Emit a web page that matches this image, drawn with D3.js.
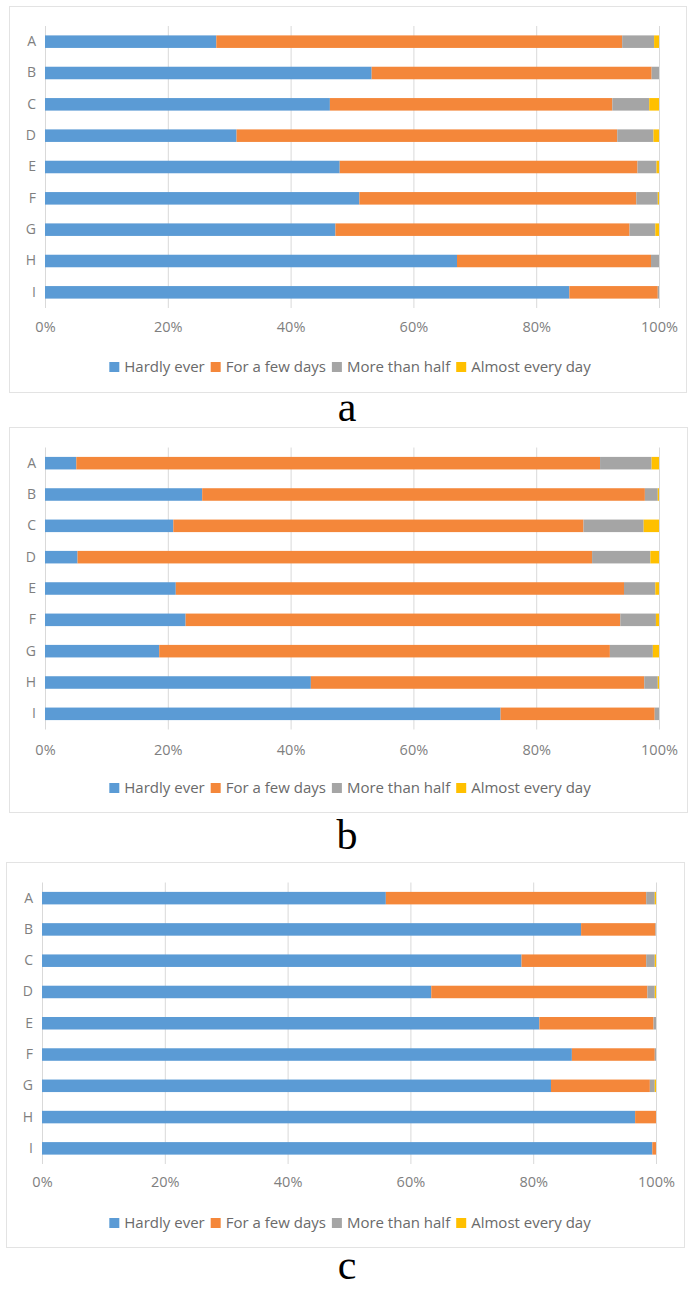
<!DOCTYPE html>
<html>
<head>
<meta charset="utf-8">
<script src="https://cdn.jsdelivr.net/npm/d3@7"></script>
<style>
  html, body { margin: 0; padding: 0; background: #fff; }
  svg { display: block; }
</style>
</head>
<body>
<svg id="chart" width="693" height="1291"></svg>
<script>
// ---------- DATA ----------
const categories = ["A", "B", "C", "D", "E", "F", "G", "H", "I"];
const seriesNames = ["Hardly ever", "For a few days", "More than half", "Almost every day"];
const xTicks = [0, 20, 40, 60, 80, 100];
const panelLabels = ["a", "b", "c"];

// Panel a (percent)
const aHardly = [27.9, 53.2, 46.4, 31.2, 48.0, 51.2, 47.3, 67.1, 85.4];
const aFew    = [66.1, 45.6, 46.0, 62.0, 48.5, 45.1, 47.9, 31.6, 14.4];
const aHalf   = [ 5.2,  1.2,  6.0,  5.9,  3.1,  3.5,  4.2,  1.3,  0.2];
const aAlmost = [ 0.8,  0.0,  1.6,  0.9,  0.4,  0.2,  0.6,  0.0,  0.0];

// Panel b (percent)
const bHardly = [ 5.1, 25.6, 20.9,  5.3, 21.3, 22.9, 18.6, 43.3, 74.2];
const bFew    = [85.3, 72.1, 66.8, 83.8, 73.0, 70.8, 73.4, 54.3, 25.1];
const bHalf   = [ 8.4,  2.1,  9.8,  9.5,  5.1,  5.8,  7.0,  2.2,  0.7];
const bAlmost = [ 1.2,  0.2,  2.5,  1.4,  0.6,  0.5,  1.0,  0.2,  0.0];

// Panel c (percent)
const cHardly = [56.0, 87.8, 78.1, 63.4, 81.0, 86.3, 82.9, 96.6, 99.4];
const cFew    = [42.4, 12.1, 20.3, 35.2, 18.6, 13.5, 16.1,  3.4,  0.6];
const cHalf   = [ 1.4,  0.1,  1.4,  1.2,  0.4,  0.2,  0.8,  0.0,  0.0];
const cAlmost = [ 0.2,  0.0,  0.2,  0.2,  0.0,  0.0,  0.2,  0.0,  0.0];

// ---------- STYLE / LAYOUT ----------
const colors = ["#5B9BD5", "#F4873A", "#A5A5A5", "#FFC000"];
const axisColor = "#7f7f7f";
const legendColor = "#6a6a6a";
const font = "'Open Sans', 'Liberation Sans', sans-serif";

const layouts = [
  { frame: [9, 6, 686, 392],   plot: [45, 26, 659, 308],     tickY: 332, legendY: 367, labelY: 421 },
  { frame: [9, 427, 687, 812], plot: [45, 447.5, 659, 729.5], tickY: 755, legendY: 788, labelY: 849 },
  { frame: [6, 862, 684, 1247], plot: [42, 882.5, 656, 1164], tickY: 1187, legendY: 1223, labelY: 1279 }
];

const panelData = [
  [aHardly, aFew, aHalf, aAlmost],
  [bHardly, bFew, bHalf, bAlmost],
  [cHardly, cFew, cHalf, cAlmost]
];

const svg = d3.select("#chart");

panelData.forEach((series, pi) => {
  const L = layouts[pi];
  const g = svg.append("g");

  // frame
  g.append("rect")
    .attr("x", L.frame[0] + 0.5).attr("y", L.frame[1] + 0.5)
    .attr("width", L.frame[2] - L.frame[0]).attr("height", L.frame[3] - L.frame[1])
    .attr("fill", "#fff").attr("stroke", "#e3e3e3").attr("stroke-width", 1);

  const x = d3.scaleLinear().domain([0, 100]).range([L.plot[0], L.plot[2]]);
  const y = d3.scaleBand().domain(categories).range([L.plot[1], L.plot[3]]).paddingInner(0.6).paddingOuter(0.3);

  // gridlines
  const grid = g.append("g")
    .attr("transform", `translate(0,${L.plot[1]})`)
    .call(d3.axisBottom(x).tickValues(xTicks).tickSize(L.plot[3] - L.plot[1]).tickFormat(""));
  grid.select(".domain").remove();
  grid.selectAll(".tick line").attr("stroke", "#d9d9d9").attr("stroke-width", 1);

  // stacked bars
  const rows = categories.map((c, i) => {
    const o = { cat: c };
    seriesNames.forEach((s, si) => o[s] = series[si][i]);
    return o;
  });
  const stack = d3.stack().keys(seriesNames)(rows);
  g.append("g").selectAll("g").data(stack).join("g")
    .attr("fill", (d, i) => colors[i])
    .selectAll("rect").data(d => d).join("rect")
    .attr("x", d => x(d[0]))
    .attr("y", d => y(d.data.cat))
    .attr("width", d => Math.max(0, x(d[1]) - x(d[0])))
    .attr("height", y.bandwidth());

  // category axis
  const ya = g.append("g")
    .attr("transform", `translate(${L.plot[0] - 9},0)`)
    .call(d3.axisLeft(y).tickSize(0).tickPadding(0));
  ya.select(".domain").remove();
  ya.selectAll("text").attr("fill", axisColor).style("font-family", font).style("font-size", "14px");

  // x tick labels
  const xa = g.append("g")
    .attr("transform", `translate(0,${L.tickY - 10})`)
    .call(d3.axisBottom(x).tickValues(xTicks).tickSize(0).tickPadding(0).tickFormat(d => d + "%"));
  xa.select(".domain").remove();
  xa.selectAll("text").attr("fill", axisColor).style("font-family", font).style("font-size", "14.5px");

  // legend
  const lg = g.append("g");
  const items = lg.selectAll("g").data(seriesNames).join("g");
  items.append("rect").attr("width", 10).attr("height", 10).attr("y", -10).attr("fill", (d, i) => colors[i]);
  items.append("text").attr("x", 15).attr("y", 0).text(d => d)
    .attr("fill", legendColor).style("font-family", font).style("font-size", "15px");
  let cx = 0;
  items.each(function () {
    const w = d3.select(this).select("text").node().getComputedTextLength();
    d3.select(this).attr("transform", `translate(${cx},0)`);
    cx += 15 + w + 6;
  });
  const total = cx - 6;
  const center = 350;
  lg.attr("transform", `translate(${center - total / 2},${L.legendY + 5})`);

  // panel letter
  svg.append("text")
    .attr("x", 347).attr("y", L.labelY)
    .attr("text-anchor", "middle")
    .style("font-family", "'Liberation Serif', 'DejaVu Serif', serif")
    .style("font-size", "42px")
    .attr("fill", "#000")
    .text(panelLabels[pi]);
});
</script>
</body>
</html>
